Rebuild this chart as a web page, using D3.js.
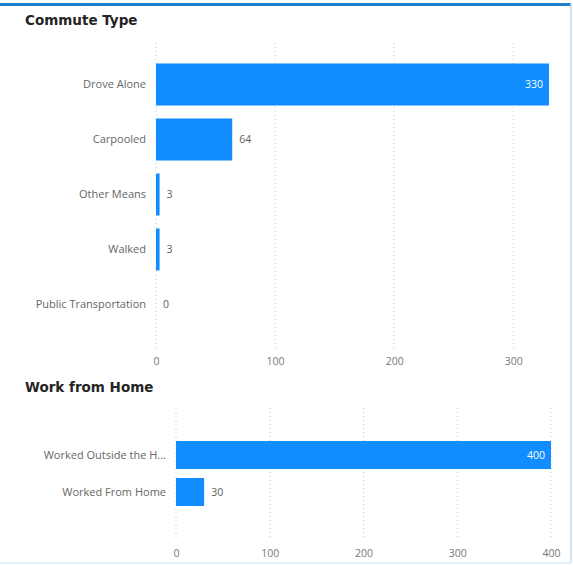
<!DOCTYPE html>
<html>
<head>
<meta charset="utf-8">
<script src="https://cdn.jsdelivr.net/npm/d3@7"></script>
<style>
  body { margin: 0; background: #fff; }
  .title { font-family: "DejaVu Sans", sans-serif; font-weight: bold; font-size: 13.5px; fill: #252423; }
  .cat { font-family: "Open Sans", sans-serif; font-size: 11px; fill: #666; }
  .tick text { font-family: "Open Sans", sans-serif; font-size: 10.5px; fill: #777; }
  .val { font-family: "Open Sans", sans-serif; font-size: 10.5px; }
</style>
</head>
<body>
<svg id="chart" width="573" height="565"></svg>
<script>
// commute type
var commuteCats = ["Drove Alone", "Carpooled", "Other Means", "Walked", "Public Transportation"];
var commuteVals = [330, 64, 3, 3, 0];
var commuteTicks = [0, 100, 200, 300];

// work from home
var homeCats = ["Worked Outside the H...", "Worked From Home"];
var homeVals = [400, 30];
var homeTicks = [0, 100, 200, 300, 400];

var barColor = "#118DFF";

var svg = d3.select("#chart");

// frame
svg.append("rect").attr("x", 0).attr("y", 3).attr("width", 571).attr("height", 3).attr("fill", "#1f7fcf");
svg.append("line").attr("x1", 571).attr("x2", 571).attr("y1", 3).attr("y2", 563)
   .attr("stroke", "#b8dcf5").attr("stroke-width", 1.5);
svg.append("line").attr("x1", 0).attr("x2", 571).attr("y1", 563).attr("y2", 563)
   .attr("stroke", "#d6ecfa").attr("stroke-width", 1.5);

function drawBars(opts) {
  var x = d3.scaleLinear().domain([0, opts.max]).range([opts.left, opts.right]);
  var y = d3.scaleBand().domain(opts.cats).range([opts.top, opts.bottom]).paddingInner(opts.pad).paddingOuter(opts.outer);

  svg.append("text").attr("class", "title").attr("x", 25).attr("y", opts.titleY).text(opts.title);

  // dotted gridlines
  svg.append("g").selectAll("line")
     .data(opts.ticks)
     .enter()
     .append("line")
     .attr("x1", function (d) { return x(d); })
     .attr("x2", function (d) { return x(d); })
     .attr("y1", opts.gridTop)
     .attr("y2", opts.gridBottom)
     .attr("stroke", "#c8c8c8")
     .attr("stroke-width", 1)
     .attr("stroke-dasharray", "1,3");

  var axis = d3.axisBottom(x).tickValues(opts.ticks).tickSize(0).tickPadding(0);
  var g = svg.append("g").attr("transform", "translate(0," + opts.axisY + ")").call(axis);
  g.select(".domain").remove();

  svg.append("g").selectAll("rect")
     .data(opts.vals)
     .enter()
     .append("rect")
     .attr("x", x(0))
     .attr("y", function (d, i) { return y(opts.cats[i]); })
     .attr("width", function (d) { return Math.max(0, x(d) - x(0)); })
     .attr("height", y.bandwidth())
     .attr("fill", barColor);

  svg.append("g").selectAll("text")
     .data(opts.cats)
     .enter()
     .append("text")
     .attr("class", "cat")
     .attr("x", opts.left - 10)
     .attr("y", function (d) { return y(d) + y.bandwidth() / 2; })
     .attr("dy", "0.35em")
     .attr("text-anchor", "end")
     .text(function (d) { return d; });

  svg.append("g").selectAll("text")
     .data(opts.vals)
     .enter()
     .append("text")
     .attr("class", "val")
     .attr("x", function (d) { return d > opts.max * 0.8 ? x(d) - 6 : x(d) + 7; })
     .attr("y", function (d, i) { return y(opts.cats[i]) + y.bandwidth() / 2; })
     .attr("dy", "0.35em")
     .attr("text-anchor", function (d) { return d > opts.max * 0.8 ? "end" : "start"; })
     .attr("fill", function (d) { return d > opts.max * 0.8 ? "#fff" : "#605e5c"; })
     .text(function (d) { return d; });
}

drawBars({
  title: "Commute Type", titleY: 25,
  cats: commuteCats, vals: commuteVals, ticks: commuteTicks, max: 330,
  left: 156, right: 549, top: 57, bottom: 332, pad: 0.236, outer: 0.118,
  gridTop: 43, gridBottom: 350, axisY: 358
});

drawBars({
  title: "Work from Home", titleY: 392,
  cats: homeCats, vals: homeVals, ticks: homeTicks, max: 400,
  left: 176, right: 551, top: 422.5, bottom: 524.5, pad: 0.243, outer: 0.5,
  gridTop: 408, gridBottom: 540, axisY: 550
});
</script>
</body>
</html>
